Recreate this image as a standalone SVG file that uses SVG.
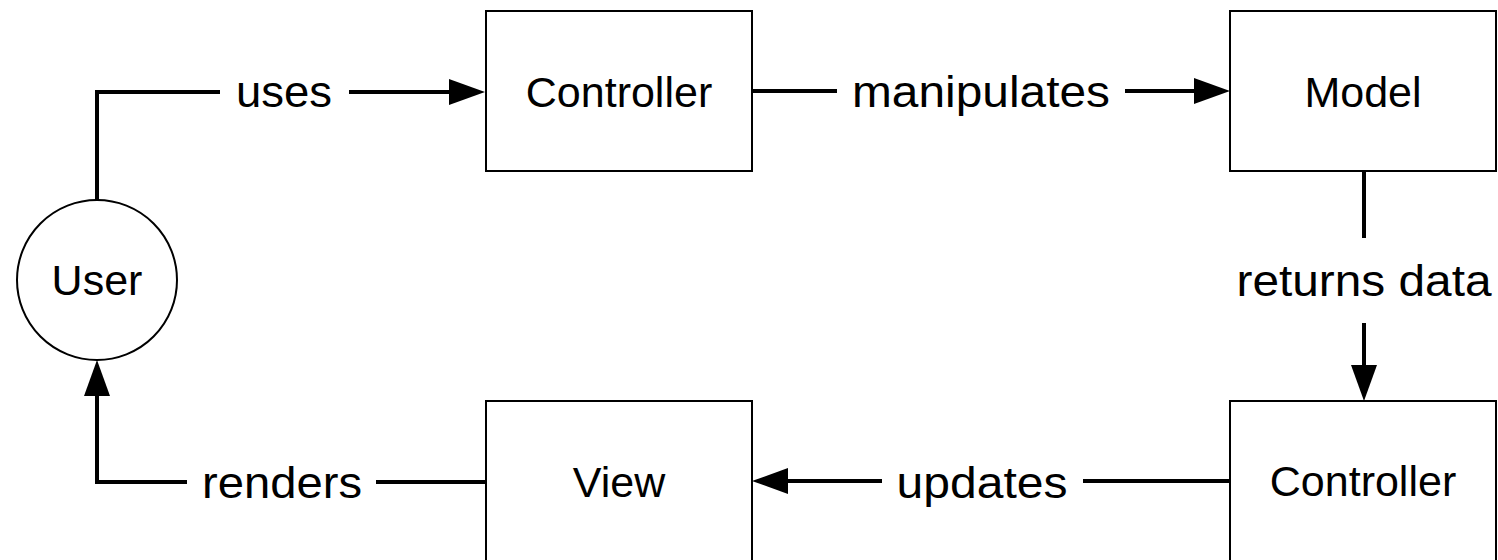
<svg xmlns="http://www.w3.org/2000/svg" width="1498" height="560" viewBox="0 0 1498 560">
<style>
.node{fill:#fff;stroke:#000;stroke-width:2}
.nt{font-family:"Liberation Sans",Arial,Helvetica,sans-serif;font-size:43px;fill:#000;text-anchor:middle}
.lt{font-family:"Liberation Sans",Arial,Helvetica,sans-serif;font-size:44px;fill:#000;text-anchor:middle}
.conn{fill:none;stroke:#000;stroke-width:4}
</style>
<defs>
<marker id="arr" markerUnits="userSpaceOnUse" markerWidth="40" markerHeight="30" refX="1" refY="13" orient="auto" overflow="visible">
<path d="M0,0 L36,13 L0,26 z" fill="#000"/>
</marker>
</defs>
<rect width="1498" height="560" fill="#fff"/>
<g id="connectors">
<path class="conn" d="M97,200 V92 H220 M349,92 H450" marker-end="url(#arr)"/>
<path class="conn" d="M752,91 H837 M1125,91 H1195" marker-end="url(#arr)"/>
<path class="conn" d="M1364,171 V238 M1364,323 V366" marker-end="url(#arr)"/>
<path class="conn" d="M1230,481 H1083 M882,481 H787" marker-end="url(#arr)"/>
<path class="conn" d="M486,482 H376 M187,482 H97 V395" marker-end="url(#arr)"/>
<text class="lt" x="284" y="107" textLength="96" lengthAdjust="spacingAndGlyphs">uses</text>
<text class="lt" x="981" y="107" textLength="258" lengthAdjust="spacingAndGlyphs">manipulates</text>
<text class="lt" x="1364" y="296" textLength="255" lengthAdjust="spacingAndGlyphs">returns data</text>
<text class="lt" x="982" y="498" textLength="171" lengthAdjust="spacingAndGlyphs">updates</text>
<text class="lt" x="282" y="498" textLength="160" lengthAdjust="spacingAndGlyphs">renders</text>
</g>
<g id="user">
<circle class="node" cx="97" cy="280" r="80"/>
<text class="nt" x="97" y="295">User</text>
</g>
<g id="controller1">
<rect class="node" x="486" y="11" width="266" height="160"/>
<text class="nt" x="619" y="107">Controller</text>
</g>
<g id="model">
<rect class="node" x="1230" y="11" width="266" height="160"/>
<text class="nt" x="1363" y="107">Model</text>
</g>
<g id="controller2">
<rect class="node" x="1230" y="401" width="266" height="162"/>
<text class="nt" x="1363" y="496">Controller</text>
</g>
<g id="view">
<rect class="node" x="486" y="401" width="266" height="162"/>
<text class="nt" x="619" y="497">View</text>
</g>
</svg>
